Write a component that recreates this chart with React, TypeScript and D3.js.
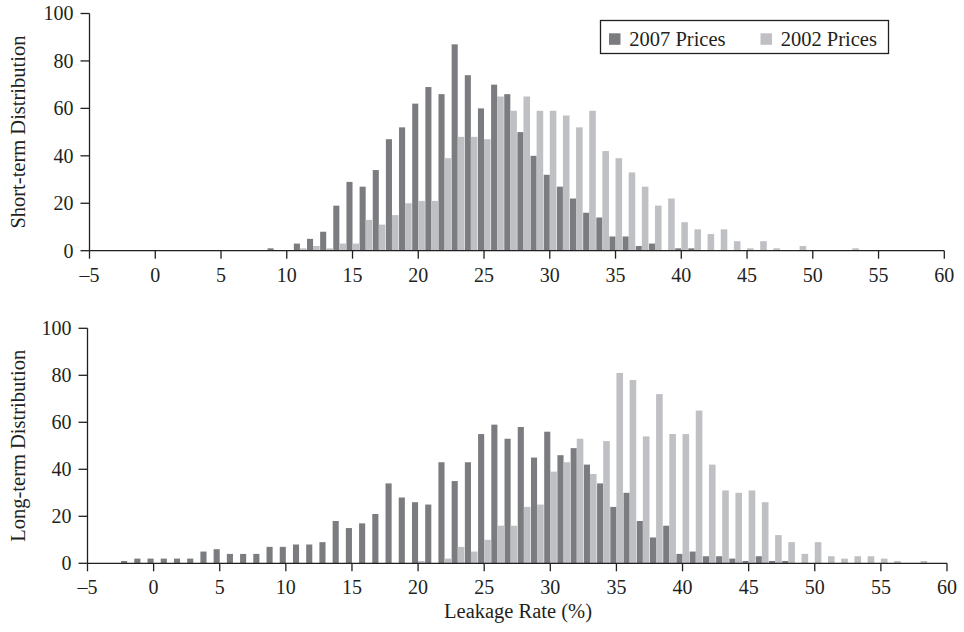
import React from 'react';
import * as d3 from 'd3';

// ---- data ----
const shortBins = [9, 10, 11, 12, 13, 14, 15, 16, 17, 18, 19, 20, 21, 22, 23, 24, 25, 26, 27, 28, 29, 30, 31, 32, 33, 34, 35, 36, 37, 38, 39, 40, 41, 42, 43, 44, 45, 46, 47, 48, 49, 50, 51, 52, 53];
const shortPrices2007 = [1, 0, 3, 5, 8, 19, 29, 27, 34, 47, 52, 62, 69, 66, 87, 74, 60, 70, 66, 50, 40, 32, 27, 22, 16, 14, 6, 6, 2, 3, 0, 1, 1, 0, 0, 0, 0, 0, 0, 0, 0, 0, 0, 0, 0];
const shortPrices2002 = [0, 0, 1, 2, 1, 3, 3, 13, 11, 15, 20, 21, 21, 39, 48, 48, 47, 65, 59, 65, 59, 59, 57, 52, 59, 42, 39, 33, 27, 19, 22, 12, 9, 7, 9, 4, 1, 4, 1, 0, 2, 0, 0, 0, 1];

const longBins = [-2, -1, 0, 1, 2, 3, 4, 5, 6, 7, 8, 9, 10, 11, 12, 13, 14, 15, 16, 17, 18, 19, 20, 21, 22, 23, 24, 25, 26, 27, 28, 29, 30, 31, 32, 33, 34, 35, 36, 37, 38, 39, 40, 41, 42, 43, 44, 45, 46, 47, 48, 49, 50, 51, 52, 53, 54, 55, 56, 57, 58];
const longPrices2007 = [1, 2, 2, 2, 2, 2, 5, 6, 4, 4, 4, 7, 7, 8, 8, 9, 18, 15, 17, 21, 34, 28, 26, 25, 43, 35, 43, 55, 59, 53, 58, 45, 56, 46, 49, 42, 34, 24, 30, 18, 11, 16, 4, 5, 3, 3, 2, 1, 3, 1, 1, 0, 0, 0, 0, 0, 0, 0, 0, 0, 0];
const longPrices2002 = [0, 0, 0, 0, 0, 0, 0, 0, 0, 0, 0, 0, 0, 0, 0, 0, 0, 0, 0, 0, 0, 0, 1, 0, 2, 7, 5, 10, 16, 16, 24, 25, 39, 43, 53, 38, 52, 81, 78, 54, 72, 55, 55, 65, 42, 31, 30, 31, 26, 12, 9, 4, 9, 3, 2, 3, 3, 2, 1, 0, 1];

const xTicks = [-5, 0, 5, 10, 15, 20, 25, 30, 35, 40, 45, 50, 55, 60];
const yTicks = [0, 20, 40, 60, 80, 100];
const seriesNames = ['2007 Prices', '2002 Prices'];

// ---- style ----
const DARK = '#7b7c80';
const LIGHT = '#bfc0c4';
const AXIS = '#231f20';
const FONT = '"Liberation Serif", "Times New Roman", serif';
const TICK_FS = 20;
const TITLE_FS = 20.5;

type PanelProps = {
  bins: number[];
  a: number[];
  b: number[];
  left: number;
  right: number;
  bottom: number;
  top: number;
  title: string;
  titleX: number;
};

function Panel({ bins, a, b, left, right, bottom, top, title, titleX }: PanelProps) {
  const x = d3.scaleLinear().domain([-5, 60]).range([left, right]);
  const y = d3.scaleLinear().domain([0, 100]).range([bottom, top]);
  const gap = 0.5;
  return (
    <g>
      {bins.map((bin, i) =>
        a[i] > 0 ? (
          <rect key={'a' + i} x={x(bin - 0.5) + gap} width={x(bin) - x(bin - 0.5) - gap}
            y={y(a[i])} height={y(0) - y(a[i])} fill={DARK} />
        ) : null
      )}
      {bins.map((bin, i) =>
        b[i] > 0 ? (
          <rect key={'b' + i} x={x(bin)} width={x(bin + 0.5) - x(bin)}
            y={y(b[i])} height={y(0) - y(b[i])} fill={LIGHT} />
        ) : null
      )}
      {/* axes */}
      <line x1={x(-5)} x2={x(-5)} y1={y(0)} y2={y(100)} stroke={AXIS} strokeWidth={1.3} />
      <line x1={x(-5)} x2={x(60)} y1={y(0)} y2={y(0)} stroke={AXIS} strokeWidth={1.3} />
      {yTicks.map((t) => (
        <g key={'yt' + t}>
          <line x1={x(-5) - 9} x2={x(-5)} y1={y(t)} y2={y(t)} stroke={AXIS} strokeWidth={1.3} />
          <text x={x(-5) - 16} y={y(t)} dy="0.34em" textAnchor="end" fontFamily={FONT}
            fontSize={TICK_FS} fill={AXIS}>{t}</text>
        </g>
      ))}
      {xTicks.map((t) => (
        <g key={'xt' + t}>
          <line x1={x(t)} x2={x(t)} y1={y(0)} y2={y(0) + 8} stroke={AXIS} strokeWidth={1.3} />
          <text x={x(t)} y={y(0) + 31} textAnchor="middle" fontFamily={FONT}
            fontSize={TICK_FS} fill={AXIS}>{t < 0 ? '\u2013' + Math.abs(t) : t}</text>
        </g>
      ))}
      <text transform={`translate(${titleX},${(y(0) + y(100)) / 2}) rotate(-90)`} textAnchor="middle"
        fontFamily={FONT} fontSize={TITLE_FS} fill={AXIS}>{title}</text>
    </g>
  );
}

export default function App() {
  return (
    <div style={{ position: 'absolute', left: 0, top: 0 }}>
      <svg width={964} height={632} style={{ display: 'block', background: '#fff' }}>
        <rect width={964} height={632} fill="#fff" />
        <Panel bins={shortBins} a={shortPrices2007} b={shortPrices2002}
          left={89.5} right={944.3} bottom={250.7} top={13.5}
          title="Short-term Distribution" titleX={25} />
        <Panel bins={longBins} a={longPrices2007} b={longPrices2002}
          left={87.5} right={947} bottom={563.3} top={328.3}
          title="Long-term Distribution" titleX={25} />
        <text x={518} y={617.5} textAnchor="middle" fontFamily={FONT} fontSize={TITLE_FS} fill={AXIS}>
          Leakage Rate (%)
        </text>
        {/* legend */}
        <g>
          <rect x={600.5} y={20.5} width={288} height={33} fill="#fff" stroke={AXIS} strokeWidth={1.3} />
          <rect x={609} y={33.3} width={11.5} height={11.5} fill={DARK} />
          <text x={629.3} y={46} fontFamily={FONT} fontSize={TITLE_FS} fill={AXIS}>{seriesNames[0]}</text>
          <rect x={760.5} y={33.3} width={11.5} height={11.5} fill={LIGHT} />
          <text x={780.7} y={46} fontFamily={FONT} fontSize={TITLE_FS} fill={AXIS}>{seriesNames[1]}</text>
        </g>
      </svg>
    </div>
  );
}
